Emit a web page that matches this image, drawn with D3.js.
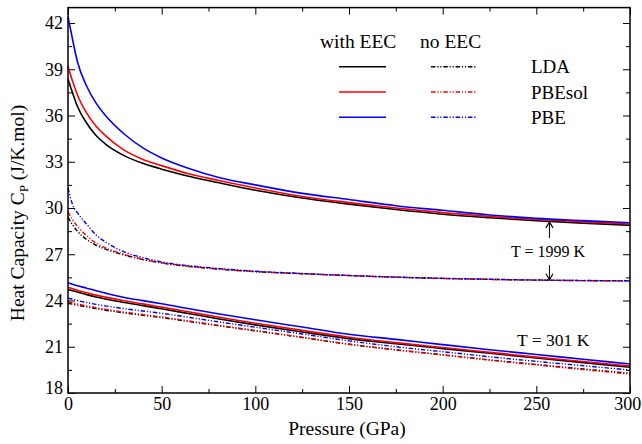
<!DOCTYPE html>
<html lang="en">
<head>
<meta charset="utf-8">
<title>Heat capacity vs pressure</title>
<script src="https://cdn.jsdelivr.net/npm/d3@7"></script>
<style>
  body { margin: 0; background: #fff; }
  .tick line { stroke: #000; stroke-width: 1; }
  .axis path.domain { display: none; }
</style>
</head>
<body>
<div id="chart"></div>
<script>
// pressure grid (GPa)
var pressure = [0, 2.5, 5, 10, 15, 20, 30, 40, 50, 65, 80, 100, 125, 150, 175, 200, 225, 250, 275, 300];

// T = 1999 K, with EEC
var lda_eec_1999    = [38.35, 37.45, 36.6, 35.5, 34.7, 34.15, 33.4, 32.9, 32.52, 32.05, 31.65, 31.15, 30.65, 30.25, 29.9, 29.6, 29.37, 29.17, 29.02, 28.88];
var pbesol_eec_1999 = [39.2, 38.2, 37.35, 36.15, 35.3, 34.7, 33.75, 33.15, 32.75, 32.2, 31.8, 31.3, 30.75, 30.35, 30.0, 29.7, 29.45, 29.25, 29.1, 28.96];
var pbe_eec_1999    = [42.4, 40.9, 39.5, 37.9, 36.8, 36.0, 34.8, 33.9, 33.25, 32.55, 32.0, 31.5, 30.95, 30.55, 30.15, 29.85, 29.55, 29.33, 29.18, 29.04];
// T = 1999 K, no EEC
var lda_no_1999     = [29.4, 28.9, 28.5, 27.95, 27.58, 27.33, 26.95, 26.65, 26.43, 26.2, 26.04, 25.87, 25.74, 25.62, 25.51, 25.43, 25.37, 25.32, 25.29, 25.27];
var pbesol_no_1999  = [29.75, 29.22, 28.82, 28.2, 27.72, 27.42, 27.0, 26.68, 26.45, 26.22, 26.05, 25.88, 25.74, 25.62, 25.51, 25.43, 25.37, 25.32, 25.29, 25.27];
var pbe_no_1999     = [31.3, 30.2, 29.7, 28.95, 28.25, 27.8, 27.15, 26.78, 26.5, 26.25, 26.08, 25.9, 25.75, 25.62, 25.52, 25.44, 25.38, 25.33, 25.3, 25.28];
// T = 301 K, with EEC
var lda_eec_301     = [24.72, 24.63, 24.55, 24.38, 24.23, 24.1, 23.87, 23.67, 23.46, 23.14, 22.82, 22.42, 21.96, 21.53, 21.19, 20.88, 20.58, 20.27, 19.97, 19.67];
var pbesol_eec_301  = [24.85, 24.76, 24.67, 24.5, 24.35, 24.22, 23.98, 23.78, 23.57, 23.25, 22.93, 22.53, 22.06, 21.62, 21.27, 20.95, 20.64, 20.33, 20.04, 19.75];
var pbe_eec_301     = [25.15, 25.05, 24.96, 24.8, 24.63, 24.48, 24.2, 23.99, 23.79, 23.46, 23.14, 22.75, 22.28, 21.81, 21.48, 21.14, 20.81, 20.5, 20.19, 19.88];
// T = 301 K, no EEC
var lda_no_301      = [23.82, 23.76, 23.7, 23.58, 23.47, 23.37, 23.2, 23.04, 22.89, 22.63, 22.37, 22.03, 21.6, 21.16, 20.8, 20.48, 20.15, 19.85, 19.56, 19.28];
var pbesol_no_301   = [23.92, 23.85, 23.78, 23.65, 23.53, 23.43, 23.25, 23.09, 22.93, 22.67, 22.4, 22.06, 21.62, 21.17, 20.8, 20.47, 20.13, 19.82, 19.52, 19.22];
var pbe_no_301      = [24.15, 24.08, 24.0, 23.87, 23.75, 23.65, 23.47, 23.32, 23.17, 22.9, 22.62, 22.27, 21.83, 21.38, 21.0, 20.68, 20.35, 20.05, 19.77, 19.49];

var functionals = ["LDA", "PBEsol", "PBE"];
var colors = ["#000000", "#ff0000", "#0000ff"];
var xTicks = [0, 50, 100, 150, 200, 250, 300];
var yTicks = [18, 21, 24, 27, 30, 33, 36, 39, 42];

var series = [
  {name: "LDA", eec: true, values: lda_eec_1999},
  {name: "PBEsol", eec: true, values: pbesol_eec_1999},
  {name: "PBE", eec: true, values: pbe_eec_1999},
  {name: "LDA", eec: false, values: lda_no_1999},
  {name: "PBEsol", eec: false, values: pbesol_no_1999},
  {name: "PBE", eec: false, values: pbe_no_1999},
  {name: "LDA", eec: true, values: lda_eec_301},
  {name: "PBEsol", eec: true, values: pbesol_eec_301},
  {name: "PBE", eec: true, values: pbe_eec_301},
  {name: "LDA", eec: false, values: lda_no_301},
  {name: "PBEsol", eec: false, values: pbesol_no_301},
  {name: "PBE", eec: false, values: pbe_no_301}
];

var serif = "'Liberation Serif', 'Times New Roman', Times, serif";

var margin = {top: 7.6, right: 12, bottom: 51, left: 68}
  , width = 642 - margin.left - margin.right
  , height = 444 - margin.top - margin.bottom;

var root = d3.select("#chart")
  .append("svg")
  .attr("width", 642)
  .attr("height", 444)
  .attr("font-family", serif);

var svg = root.append("g")
  .attr("transform", "translate(" + margin.left + "," + margin.top + ")");

var x = d3.scaleLinear().domain([0, 300]).range([0, width]);
var y = d3.scaleLinear().domain([18, 43]).range([height, 0]);

var color = d3.scaleOrdinal().domain(functionals).range(colors);
var dashDotDot = "4.5,1.8,1.2,1.8,1.2,1.8";

// axes, ticks pointing inward on all four sides
var minorX = d3.range(25, 300, 50);
var minorY = d3.range(19.5, 43, 3);

var xAxis = svg.append("g").attr("class", "axis")
  .attr("transform", "translate(0," + height + ")")
  .call(d3.axisBottom(x).tickValues(xTicks).tickSize(-7).tickPadding(4));
// last label sits against the page edge, nudge it in a little
xAxis.selectAll(".tick text").filter(function(d) { return d == 300; }).attr("dx", "-0.15em");
svg.append("g").attr("class", "axis")
  .attr("transform", "translate(0," + height + ")")
  .call(d3.axisBottom(x).tickValues(minorX).tickSize(-4).tickFormat(""));
svg.append("g").attr("class", "axis")
  .call(d3.axisTop(x).tickValues(xTicks).tickSize(-7).tickFormat(""));
svg.append("g").attr("class", "axis")
  .call(d3.axisTop(x).tickValues(minorX).tickSize(-4).tickFormat(""));

var yAxis = svg.append("g").attr("class", "axis")
  .call(d3.axisLeft(y).tickValues(yTicks).tickSize(-7).tickPadding(5));
yAxis.selectAll(".tick text").filter(function(d) { return d == 18; }).attr("dy", "0.02em");
svg.append("g").attr("class", "axis")
  .call(d3.axisLeft(y).tickValues(minorY).tickSize(-4).tickFormat(""));
svg.append("g").attr("class", "axis")
  .attr("transform", "translate(" + width + ",0)")
  .call(d3.axisRight(y).tickValues(yTicks).tickSize(-7).tickFormat(""));
svg.append("g").attr("class", "axis")
  .attr("transform", "translate(" + width + ",0)")
  .call(d3.axisRight(y).tickValues(minorY).tickSize(-4).tickFormat(""));

svg.selectAll(".axis").attr("font-family", serif);
svg.selectAll(".tick text").style("font-size", "18px").style("font-family", serif).attr("fill", "#000");

// curves
var line = d3.line()
  .x(function(d, i) { return x(pressure[i]); })
  .y(function(d) { return y(d); })
  .curve(d3.curveMonotoneX);

svg.append("g")
  .selectAll("path")
  .data(series)
  .enter()
  .append("path")
  .attr("d", function(d) { return line(d.values); })
  .attr("fill", "none")
  .attr("stroke", function(d) { return color(d.name); })
  .attr("stroke-width", function(d) { return d.eec ? 1.6 : 1.4; })
  .attr("stroke-dasharray", function(d) { return d.eec ? null : dashDotDot; });

// frame
svg.append("rect")
  .attr("width", width)
  .attr("height", height)
  .attr("fill", "none")
  .attr("stroke", "#000")
  .attr("stroke-width", 1.5);

// legend
var legend = root.append("g");
legend.append("text").attr("x", 320).attr("y", 47.5).style("font-size", "19.5px").style("font-family", serif).text("with EEC");
legend.append("text").attr("x", 420).attr("y", 47.5).style("font-size", "19.5px").style("font-family", serif).text("no EEC");

legend.selectAll("g.row")
  .data(functionals)
  .enter()
  .append("g")
  .attr("class", "row")
  .each(function(d, i) {
    var g = d3.select(this);
    var ly = 66.7 + i * 25.3;
    g.append("line")
      .attr("x1", 339).attr("x2", 386).attr("y1", ly).attr("y2", ly)
      .attr("stroke", color(d)).attr("stroke-width", 1.6);
    g.append("line")
      .attr("x1", 431).attr("x2", 476).attr("y1", ly).attr("y2", ly)
      .attr("stroke", color(d)).attr("stroke-width", 1.4)
      .attr("stroke-dasharray", dashDotDot);
    g.append("text")
      .attr("x", 531)
      .attr("y", ly + 6.5)
      .style("font-size", "19px")
      .style("font-family", serif)
      .text(d);
  });

// temperature annotations
svg.append("text")
  .attr("x", x(256.3))
  .attr("y", y(26.8))
  .attr("text-anchor", "middle")
  .style("font-size", "16px")
  .style("font-family", serif)
  .text("T = 1999 K");

svg.append("text")
  .attr("x", x(259))
  .attr("y", y(21.05))
  .attr("text-anchor", "middle")
  .style("font-size", "17.5px")
  .style("font-family", serif)
  .text("T = 301 K");

function arrow(p, from, to) {
  var x0 = x(p), y0 = y(from), y1 = y(to);
  var dir = y1 < y0 ? 1 : -1;
  svg.append("line")
    .attr("x1", x0).attr("x2", x0).attr("y1", y0).attr("y2", y1)
    .attr("stroke", "#000").attr("stroke-width", 1);
  svg.append("path")
    .attr("d", "M" + (x0 - 3.5) + "," + (y1 + dir * 6) + "L" + x0 + "," + y1 + "L" + (x0 + 3.5) + "," + (y1 + dir * 6))
    .attr("fill", "none")
    .attr("stroke", "#000")
    .attr("stroke-width", 1.2);
}
arrow(257, 28.05, 29.1);
arrow(257, 26.3, 25.35);

// axis titles
svg.append("text")
  .attr("x", width / 2 - 2)
  .attr("y", height + 42)
  .attr("text-anchor", "middle")
  .style("font-size", "19.5px")
  .style("font-family", serif)
  .text("Pressure (GPa)");

var ylab = root.append("text")
  .attr("transform", "translate(24,213) rotate(-90)")
  .attr("text-anchor", "middle")
  .style("font-size", "19.5px")
  .style("font-family", serif);
ylab.append("tspan").text("Heat Capacity C");
ylab.append("tspan").attr("dy", 4).style("font-size", "13px").text("P");
ylab.append("tspan").attr("dy", -4).text(" (J/K.mol)");
</script>
</body>
</html>
